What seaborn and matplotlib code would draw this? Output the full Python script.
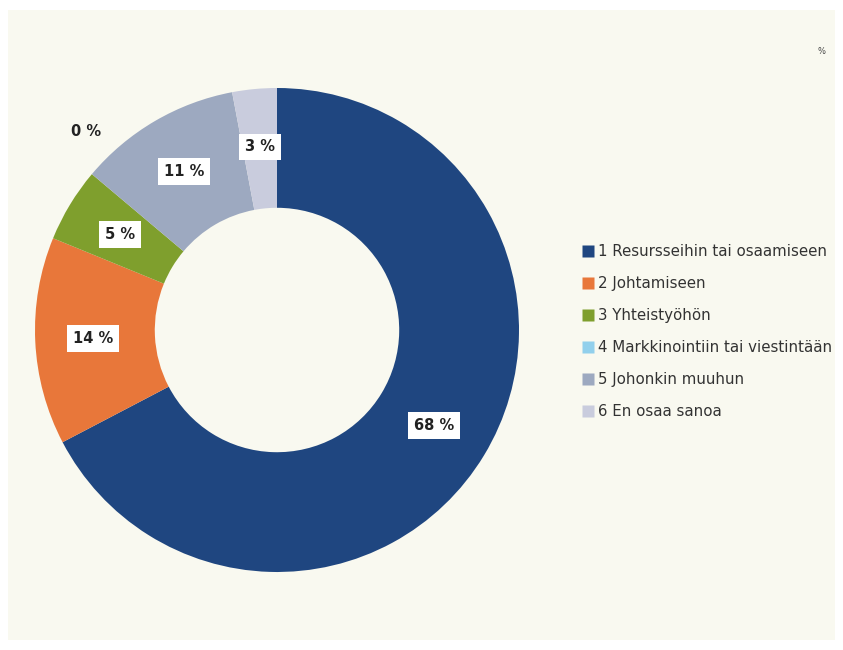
"""Donut chart: share of answers by category (Finnish survey)."""
import numpy as np
import matplotlib
matplotlib.use("Agg")
import matplotlib.pyplot as plt
import seaborn as sns
from matplotlib.patches import Rectangle
from matplotlib.lines import Line2D

categories = ["1 Resursseihin tai osaamiseen", "2 Johtamiseen", "3 Yhteistyöhön",
              "4 Markkinointiin tai viestintään", "5 Johonkin muuhun", "6 En osaa sanoa"]
values = [68, 14, 5, 0, 11, 3]
colors = ["#1F4680", "#E8773A", "#7F9F2D", "#92D0EC", "#9DA9C0", "#C9CCDD"]

sns.set_theme(style="white")
plt.rcParams["font.family"] = ["DejaVu Sans"]
BG = "#F9F9F0"

fig = plt.figure(figsize=(8.43, 6.5), dpi=100, facecolor="white")
fig.patches.append(Rectangle((8 / 843, 10 / 650), 827 / 843, 630 / 650,
                             transform=fig.transFigure, facecolor=BG,
                             edgecolor="none", zorder=-1))

# donut centred at ~(277, 330) px, outer radius ~242 px
ax = fig.add_axes([35 / 843, 78 / 650, 484 / 843, 484 / 650])
ax.set_facecolor("none")
wedges, _ = ax.pie(values, colors=colors, startangle=90, counterclock=False,
                   radius=1.0, wedgeprops=dict(width=0.495, linewidth=0))
ax.set_xlim(-1, 1)
ax.set_ylim(-1, 1)
ax.axis("off")

box = dict(boxstyle="square,pad=0.4", facecolor="white", edgecolor="none")
for w, v in zip(wedges, values):
    mid = (w.theta1 + w.theta2) / 2
    if v == 0:
        # empty slice: label sits just outside the ring
        mid -= 6
        r = 1.14
    else:
        r = 0.76
    x, y = r * np.cos(np.deg2rad(mid)), r * np.sin(np.deg2rad(mid))
    ax.text(x, y, f"{v} %", ha="center", va="center", fontsize=10.5,
            fontweight="bold", color="#222222", bbox=box if v > 0 else None)

handles = [Line2D([], [], marker="s", linestyle="none", markersize=9,
                  markerfacecolor=c, markeredgecolor="none") for c in colors]
fig.legend(handles, categories, loc="upper left", bbox_to_anchor=(576 / 843, 1 - 238 / 650),
           frameon=False, fontsize=10.8, labelspacing=1.13, handlelength=0.85,
           handletextpad=0.25, labelcolor="#333333", borderaxespad=0)

fig.text(822 / 843, 1 - 52 / 650, "%", fontsize=6, color="#444444", ha="center", va="center")

fig.savefig("out.png", dpi=100, facecolor=fig.get_facecolor())
